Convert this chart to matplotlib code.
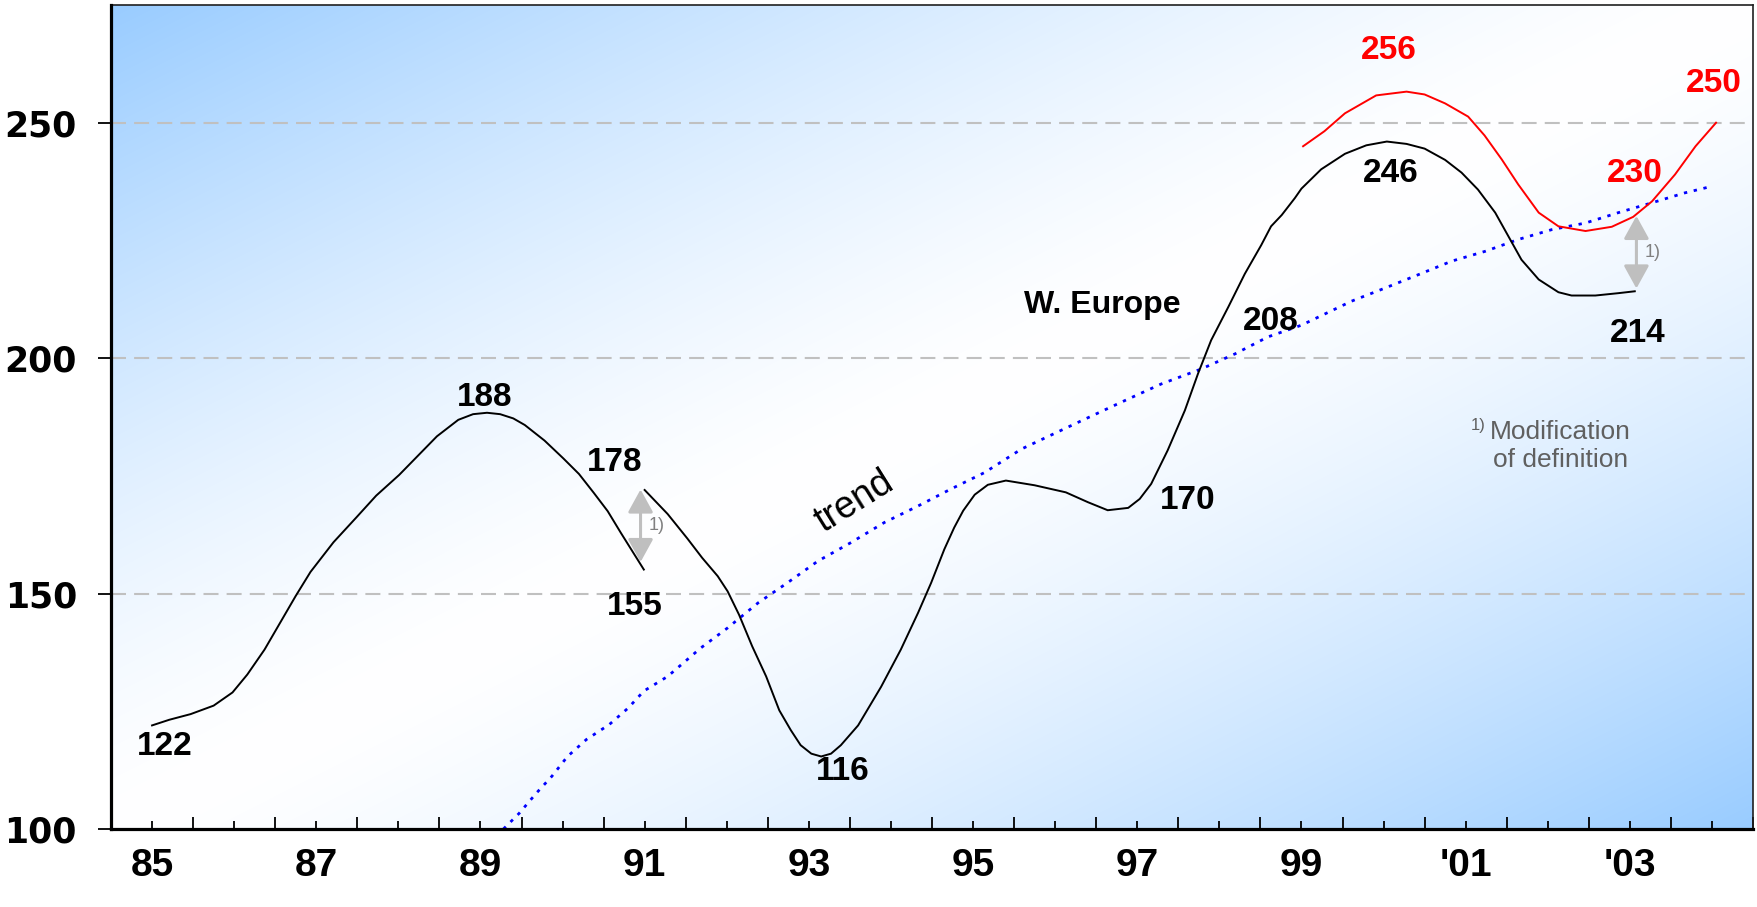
import numpy as np
import matplotlib
matplotlib.use("Agg")
import matplotlib.pyplot as plt
from matplotlib.patches import FancyArrowPatch

plt.rcParams['font.family'] = ['Liberation Sans', 'DejaVu Sans']

# --- data -------------------------------------------------------------
years = list(range(1985, 2005))
year_labels = ["85", "", "87", "", "89", "", "91", "", "93", "", "95", "", "97", "",
               "99", "", "'01", "", "'03", ""]
value_ticks = [100, 150, 200, 250]

# W. Europe, old definition (up to 1991)
old_x = [1985.00, 1985.21, 1985.47, 1985.75, 1985.98, 1986.16, 1986.37, 1986.56,
         1986.75, 1986.93, 1987.21, 1987.49, 1987.73, 1988.01, 1988.24, 1988.47,
         1988.73, 1988.91, 1989.08, 1989.24, 1989.40, 1989.54, 1989.78, 1990.01,
         1990.20, 1990.38, 1990.55, 1990.71, 1990.85, 1990.99]
old_y = [122.0, 123.2, 124.4, 126.2, 129.0, 132.8, 138.1, 143.8, 149.5, 154.6,
         160.9, 166.2, 170.8, 175.2, 179.3, 183.4, 186.9, 188.1, 188.4, 188.1,
         187.2, 185.8, 182.5, 178.7, 175.4, 171.4, 167.5, 162.9, 159.0, 155.1]

# W. Europe, from 1991 on
new_x = [1991.00, 1991.28, 1991.52, 1991.70, 1991.89, 1992.01, 1992.15, 1992.31,
         1992.48, 1992.64, 1992.78, 1992.90, 1993.03, 1993.15, 1993.27, 1993.39,
         1993.60, 1993.88, 1994.12, 1994.33, 1994.49, 1994.65, 1994.77, 1994.88,
         1995.02, 1995.18, 1995.40, 1995.75, 1996.13, 1996.40, 1996.64, 1996.89,
         1997.03, 1997.17, 1997.37, 1997.58, 1997.74, 1997.90, 1998.11, 1998.31,
         1998.51, 1998.63, 1998.76, 1998.92, 1999.00, 1999.24, 1999.53, 1999.79,
         2000.04, 2000.28, 2000.50, 2000.75, 2000.95, 2001.15, 2001.36, 2001.52,
         2001.68, 2001.89, 2002.13, 2002.29, 2002.58, 2002.86, 2003.06]
new_y = [172.0, 166.9, 161.7, 157.6, 153.7, 150.5, 145.5, 138.8, 132.4, 125.2,
         121.0, 117.8, 116.0, 115.4, 116.0, 117.8, 122.0, 130.2, 138.1, 145.9,
         152.3, 159.4, 164.0, 167.6, 171.0, 173.1, 174.0, 173.0, 171.5, 169.4,
         167.7, 168.2, 170.1, 173.3, 180.4, 188.9, 196.7, 203.8, 210.9, 217.9,
         224.0, 228.0, 230.4, 234.0, 236.0, 240.1, 243.4, 245.2, 246.0, 245.5,
         244.5, 242.1, 239.4, 235.8, 230.9, 225.9, 220.9, 216.7, 214.0, 213.3,
         213.3, 213.8, 214.2]

# modified definition (from 1999)
mod_x = [1999.02, 1999.28, 1999.53, 1999.91, 2000.28, 2000.50, 2000.75, 2001.03,
         2001.23, 2001.44, 2001.64, 2001.89, 2002.13, 2002.46, 2002.78, 2003.04,
         2003.27, 2003.55, 2003.80, 2004.05]
mod_y = [245.0, 248.2, 252.0, 255.8, 256.6, 256.0, 254.1, 251.3, 247.3, 242.2,
         236.9, 230.9, 228.0, 227.0, 227.9, 230.0, 233.3, 239.0, 245.0, 250.0]

# trend
trend_x = [1989.28, 1989.47, 1989.68, 1989.87, 1990.06, 1990.29, 1990.57, 1990.80,
           1990.99, 1991.28, 1991.68, 1992.01, 1992.38, 1992.74, 1993.11, 1993.51,
           1993.92, 1994.33, 1994.73, 1995.14, 1995.59, 1996.32, 1996.80, 1997.29,
           1997.78, 1998.19, 1998.59, 1999.00, 1999.61, 2000.02, 2000.42, 2000.83,
           2001.24, 2001.64, 2002.05, 2002.46, 2002.86, 2003.27, 2003.67, 2004.00]
trend_y = [100.0, 103.3, 107.6, 111.2, 115.4, 119.0, 122.2, 125.7, 129.3, 132.4,
           138.4, 142.7, 148.0, 152.3, 156.9, 160.8, 165.1, 168.6, 172.2, 175.7,
           180.7, 186.7, 190.6, 194.5, 197.7, 200.9, 204.5, 207.0, 212.1, 214.9,
           217.7, 220.6, 222.7, 225.2, 227.3, 228.7, 230.9, 233.0, 235.1, 236.5]

# value labels: text, x, y
black_labels = [("122", 1985.16, 117.5), ("188", 1989.05, 191.6),
                ("178", 1990.63, 177.8), ("155", 1990.88, 147.3),
                ("116", 1993.41, 112.3), ("170", 1997.61, 169.7),
                ("208", 1998.63, 207.7), ("246", 2000.09, 239.2),
                ("214", 2003.09, 205.2)]
red_labels = [("256", 2000.06, 265.4), ("230", 2003.06, 239.2),
              ("250", 2004.02, 258.3)]

# definition breaks: x, upper, lower
breaks = [(1990.95, 172.7, 156.1), (2003.08, 230.8, 214.2)]

# --- figure -----------------------------------------------------------
fig = plt.figure(figsize=(17.57, 9.07), dpi=100)
ax = fig.add_axes([111 / 1757, 1 - 829 / 907, (1753 - 111) / 1757, (829 - 5) / 907])
ax.set_xlim(1984.5, 2004.5)
ax.set_ylim(100, 275)

# diagonal gradient background: blue corners, white band across the middle
n = 400
u = np.linspace(0, 1, n)[None, :]
v = np.linspace(0, 1, n)[:, None]
t = np.clip(np.abs((u + v) - 1.0), 0, 1) ** 1.4
blue = np.array([0.60, 0.80, 1.0])
white = np.array([1.0, 1.0, 1.0])
img = white[None, None, :] * (1 - t[..., None]) + blue[None, None, :] * t[..., None]
ax.imshow(img, extent=(0, 1, 0, 1), transform=ax.transAxes, aspect='auto',
          zorder=0, interpolation='bilinear')

# gridlines
for gy in value_ticks[1:]:
    ax.axhline(gy, color='#c0c0c0', lw=1.5, ls=(0, (7.2, 3.9)), zorder=1)

ax.plot(trend_x, trend_y, color='#0000ff', lw=2.0, ls=(0, (1.2, 2.4)), zorder=2)
ax.plot(old_x, old_y, color='black', lw=1.4, zorder=3)
ax.plot(new_x, new_y, color='black', lw=1.4, zorder=3)
ax.plot(mod_x, mod_y, color='#ff0000', lw=1.4, zorder=3)

for xb, top, bot in breaks:
    arr = FancyArrowPatch((xb, bot), (xb, top),
                          arrowstyle='<|-|>,head_length=1.0,head_width=0.55',
                          mutation_scale=14, lw=2.2, color='#bfbfbf', zorder=2)
    ax.add_patch(arr)
    ax.text(xb + 0.1, (top + bot) / 2, "1)", fontsize=13, color='#808080',
            ha='left', va='center', zorder=4)

for s, x, y in black_labels:
    ax.text(x, y, s, fontsize=24, fontweight='bold', color='black',
            ha='center', va='center', zorder=5)
for s, x, y in red_labels:
    ax.text(x, y, s, fontsize=24, fontweight='bold', color='#ff0000',
            ha='center', va='center', zorder=5)

ax.text(1996.57, 211.3, "W. Europe", fontsize=23, fontweight='bold',
        ha='center', va='center', zorder=5)
ax.text(1993.56, 169.5, "trend", fontsize=27, rotation=32, rotation_mode='anchor',
        ha='center', va='center', zorder=5)

ax.text(2002.15, 184.4, "Modification", fontsize=19, color='#606060',
        ha='center', va='center', zorder=5)
ax.text(2002.15, 178.4, "of definition", fontsize=19, color='#606060',
        ha='center', va='center', zorder=5)
ax.text(2001.15, 185.6, "1)", fontsize=12, color='#606060',
        ha='center', va='center', zorder=5)

# axes styling
ax.set_yticks(value_ticks)
ax.set_yticklabels([str(v) for v in value_ticks])
ax.set_xticks(years)
ax.set_xticklabels(year_labels)
ax.set_xticks(np.arange(1984.5, 2004.6, 1.0), minor=True)
ax.tick_params(axis='y', direction='out', length=9.5, width=1.3, pad=15,
               labelsize=25)
ax.tick_params(axis='x', which='major', direction='in', length=6, width=1.3,
               pad=14, labelsize=28)
ax.tick_params(axis='x', which='minor', direction='in', length=9, width=1.3)
for lab in ax.get_yticklabels():
    lab.set_fontweight('bold')
    lab.set_family('DejaVu Sans')
for lab in ax.get_xticklabels():
    lab.set_fontweight('bold')

for side in ('left', 'bottom'):
    ax.spines[side].set_linewidth(2.3)
    ax.spines[side].set_zorder(6)
for side in ('top', 'right'):
    ax.spines[side].set_linewidth(1.2)
    ax.spines[side].set_color('#202020')

fig.savefig("out.png", dpi=100)
